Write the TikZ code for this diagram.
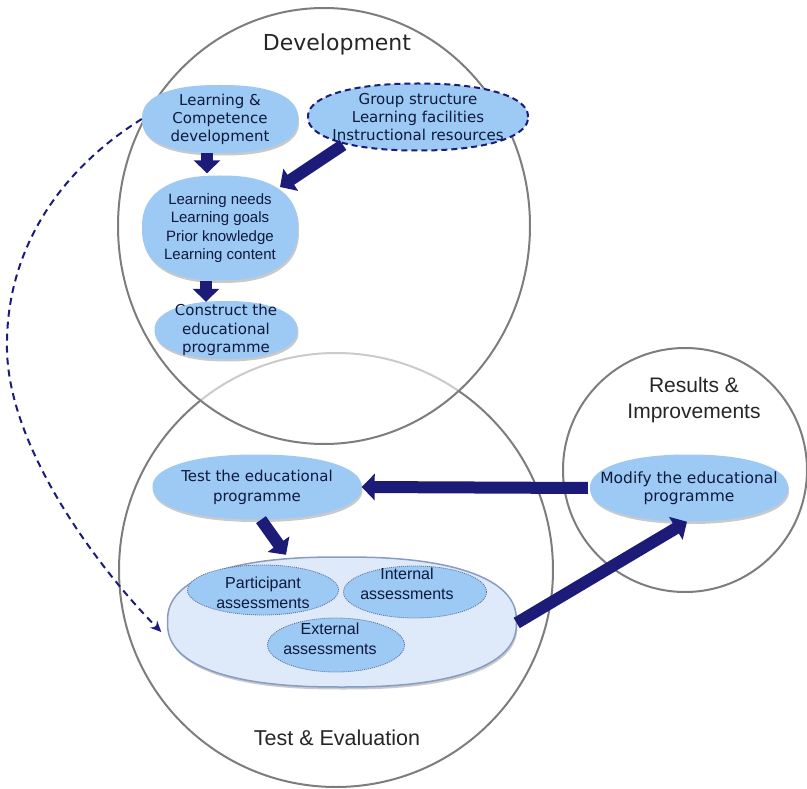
\documentclass[tikz,border=0pt]{standalone}
\usepackage{fontspec}
\setmainfont{DejaVu Sans}
\newfontfamily\lib{Liberation Sans}
\usetikzlibrary{shapes.geometric,arrows.meta,shadows}
\definecolor{nodefill}{RGB}{156,202,245}
\definecolor{bigfill}{RGB}{222,234,250}
\definecolor{bigline}{RGB}{135,155,195}
\definecolor{navy}{RGB}{28,28,120}
\definecolor{ringgray}{RGB}{125,125,125}
\definecolor{txtc}{RGB}{15,25,60}
\definecolor{dotline}{RGB}{95,110,150}
% superellipse: [options]{cx}{cy}{a}{b}{n}
\newcommand\blobshape[6][]{%
  \path[#1] plot[domain=1.25:358.75, samples=144, smooth cycle, variable=\t]
   ({#2+#4*sign(cos(\t))*abs(cos(\t))^(2/#6)}, {#3+#5*sign(sin(\t))*abs(sin(\t))^(2/#6)});}
\begin{document}
\begin{tikzpicture}[x=1pt,y=-1pt,
  ring/.style={draw=ringgray, line width=2pt},
  softfill/.style={fill=nodefill,
    drop shadow={shadow xshift=1pt, shadow yshift=-2.5pt, opacity=0.35, fill=black!60}},
  txt/.style={align=center, inner sep=0pt, text=txtc, font=\fontsize{15}{18}\selectfont},
  asstxt/.style={align=center, inner sep=0pt, text=txtc, font=\lib\fontsize{16}{19.5}\selectfont},
  inner/.style={ellipse, fill=nodefill, draw=dotline, line width=0.8pt, dash pattern=on 1pt off 1pt, inner sep=0pt},
  title/.style={text=black!85, inner sep=0pt, align=center},
  bigarrow/.style={draw=navy, line width=12pt, -{Triangle[length=13pt,width=26pt]}},
  dasharrow/.style={draw=navy, line width=2pt, dash pattern=on 7pt off 5pt, -{Stealth[length=11pt,width=10pt]}}
]
\useasboundingbox (0,0) rectangle (807,789);

% circles
\draw[ring] (336,570) circle[radius=217];
\draw[ring, fill=white, fill opacity=0.6] (324,226) ellipse[x radius=206, y radius=218];
\draw[ring] (685,470) circle[radius=122];

% titles
\node[title, font=\fontsize{22}{26}\selectfont] (devt) at (337,44) {Development};
\node[title, font=\lib\fontsize{21.5}{26}\selectfont] (testt) at (337,738) {Test \& Evaluation};
\node[title, font=\lib\fontsize{21}{26}\selectfont] (rest) at (694,400) {Results \&\\Improvements};

% development nodes
\blobshape[softfill]{220}{119}{78}{34}{2.4}
\node[txt, minimum width=156pt, minimum height=68pt] (lc) at (220,119)
  {Learning \&\\Competence\\development};
\blobshape[fill=nodefill, draw=navy, line width=2pt, dash pattern=on 6pt off 4pt]{418}{117}{110}{33.5}{2.2}
\node[txt, minimum width=220pt, minimum height=67pt] (group) at (418,117)
  {Group structure\\Learning facilities\\Instructional resources};
\blobshape[softfill]{220}{228}{78}{52.5}{2.4}
\node[txt, font=\lib\fontsize{15}{18.5}\selectfont, minimum width=156pt, minimum height=105pt] (needs) at (220,228)
  {Learning needs\\Learning goals\\Prior knowledge\\Learning content};
\blobshape[softfill]{226}{330}{71.5}{29}{2.2}
\node[txt, font=\fontsize{15}{18.5}\selectfont, minimum width=143pt, minimum height=58pt] (cons) at (226,330)
  {Construct the\\educational\\programme};

% test nodes
\blobshape[softfill]{257}{487}{104.5}{32.5}{2.2}
\node[txt, font=\fontsize{15}{20}\selectfont, minimum width=209pt, minimum height=65pt] (test) at (257,487)
  {Test the educational\\programme};
\blobshape[fill=bigfill, draw=bigline, line width=1.5pt,
  drop shadow={shadow xshift=1pt, shadow yshift=-2.5pt, opacity=0.35, fill=black!60}]{342}{622}{174.5}{65}{2.4}
\node[minimum width=349pt, minimum height=130pt, inner sep=0pt] (big) at (342,622) {};
\node[inner, minimum width=151pt, minimum height=50pt] (part) at (263,590) {};
\node[asstxt] (part-t) at (263,593) {Participant\\assessments};
\node[inner, minimum width=143pt, minimum height=52pt] (int) at (415,592) {};
\node[asstxt] (int-t) at (407,584) {Internal\\assessments};
\node[inner, minimum width=137pt, minimum height=54pt] (ext) at (336,645) {};
\node[asstxt] (ext-t) at (330,639) {External\\assessments};

% results node
\blobshape[softfill]{689}{488}{99}{33.5}{2.2}
\node[txt, font=\fontsize{15.5}{18}\selectfont, minimum width=198pt, minimum height=67pt] (mod) at (689,488)
  {Modify the educational\\programme};

% arrows
\draw[bigarrow] ([xshift=-13pt]lc.south) -- ([xshift=-13pt,yshift=2pt]needs.north);
\draw[bigarrow] ([xshift=-75pt,yshift=-28pt]group.center) -- ([xshift=60pt,yshift=41pt]needs.center);
\draw[bigarrow] ([xshift=-14pt]needs.south) -- ([xshift=-20pt,yshift=-1pt]cons.north);
\draw[bigarrow] ([xshift=-2pt]mod.west) -- (test.east);
\draw[bigarrow] ([xshift=4pt]test.south) -- ([xshift=-56pt,yshift=2pt]big.north);
\draw[bigarrow] ([yshift=-1pt]big.east) -- ([xshift=-2pt]mod.south);
\draw[dasharrow] (lc.west) .. controls (60,170) and (5,250) .. (7,350)
  .. controls (9,450) and (100,570) .. ([xshift=-6pt,yshift=-10pt]big.west);
\end{tikzpicture}
\end{document}
